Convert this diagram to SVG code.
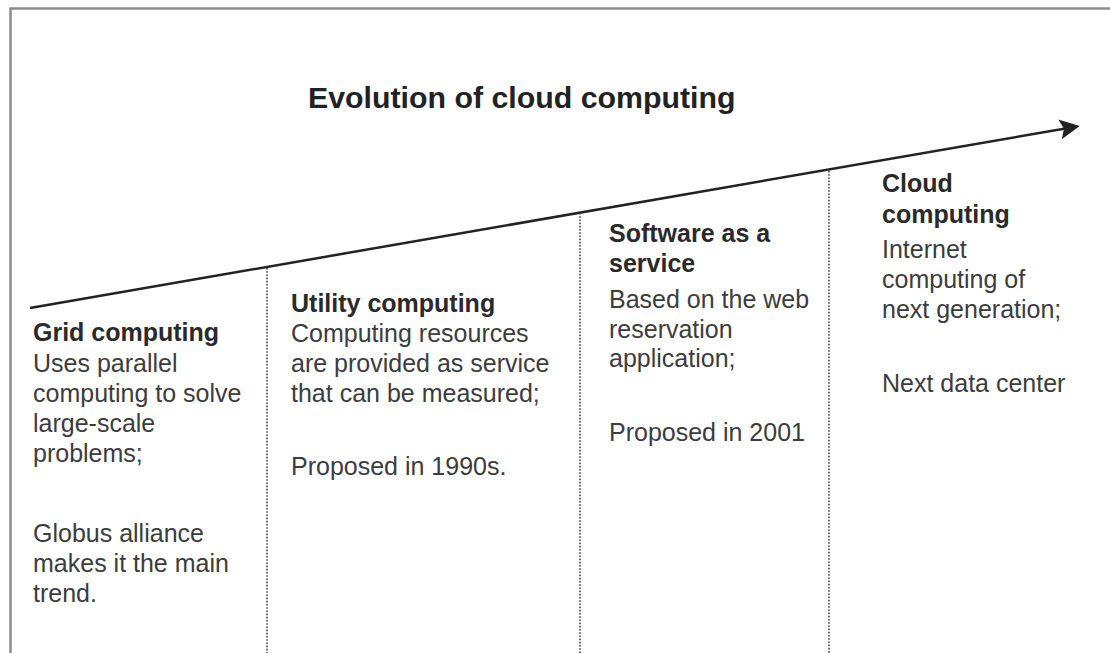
<svg xmlns="http://www.w3.org/2000/svg" width="1110" height="653" viewBox="0 0 1110 653">
  <style>
    .frame { fill: none; stroke: #8c8c8c; stroke-width: 2.5; }
    .timeline { fill: none; stroke: #222; stroke-width: 2.5; }
    .divider { fill: none; stroke: #444; stroke-width: 1.6; stroke-dasharray: 1.6 1.6; }
    .title { font-family: "Liberation Sans", Arial, sans-serif; font-size: 30.3px; font-weight: bold; fill: #222; }
    .head { font-family: "Liberation Sans", Arial, sans-serif; font-size: 25px; font-weight: bold; fill: #2a2a2a; }
    .body { font-family: "Liberation Sans", Arial, sans-serif; font-size: 25px; fill: #3c3c3c; }
  </style>
  <defs>
    <marker id="arrowhead" markerUnits="userSpaceOnUse" viewBox="0 0 20 20" refX="4" refY="10" markerWidth="20" markerHeight="20" orient="auto">
      <path d="M0,0 L20,10 L0,20 L4,10 z" fill="#222"/>
    </marker>
  </defs>

  <rect width="1110" height="653" fill="#fff"/>
  <!-- outer frame: left and top edges -->
  <path class="frame" d="M10.5,653 L10.5,8.5 L1110,8.5"/>

  <text class="title" x="308" y="108">Evolution of cloud computing</text>

  <g id="connectors">
    <line class="timeline" x1="30" y1="308" x2="1064" y2="128.7" marker-end="url(#arrowhead)"/>
    <line class="divider" x1="267" y1="268" x2="267" y2="653"/>
    <line class="divider" x1="580" y1="213" x2="580" y2="653"/>
    <line class="divider" x1="829" y1="171" x2="829" y2="653"/>
  </g>

  <g id="grid-computing">
    <text class="head" x="33" y="341">Grid computing</text>
    <text class="body" x="33" y="372">Uses parallel</text>
    <text class="body" x="33" y="402">computing to solve</text>
    <text class="body" x="33" y="432">large-scale</text>
    <text class="body" x="33" y="462">problems;</text>
    <text class="body" x="33" y="542">Globus alliance</text>
    <text class="body" x="33" y="572">makes it the main</text>
    <text class="body" x="33" y="602">trend.</text>
  </g>

  <g id="utility-computing">
    <text class="head" x="291" y="312">Utility computing</text>
    <text class="body" x="291" y="342">Computing resources</text>
    <text class="body" x="291" y="372">are provided as service</text>
    <text class="body" x="291" y="402">that can be measured;</text>
    <text class="body" x="291" y="475">Proposed in 1990s.</text>
  </g>

  <g id="software-as-a-service">
    <text class="head" x="609" y="242">Software as a</text>
    <text class="head" x="609" y="272">service</text>
    <text class="body" x="609" y="308">Based on the web</text>
    <text class="body" x="609" y="338">reservation</text>
    <text class="body" x="609" y="367">application;</text>
    <text class="body" x="609" y="441">Proposed in 2001</text>
  </g>

  <g id="cloud-computing">
    <text class="head" x="882" y="192">Cloud</text>
    <text class="head" x="882" y="223">computing</text>
    <text class="body" x="882" y="258">Internet</text>
    <text class="body" x="882" y="288">computing of</text>
    <text class="body" x="882" y="318">next generation;</text>
    <text class="body" x="882" y="392">Next data center</text>
  </g>
</svg>
